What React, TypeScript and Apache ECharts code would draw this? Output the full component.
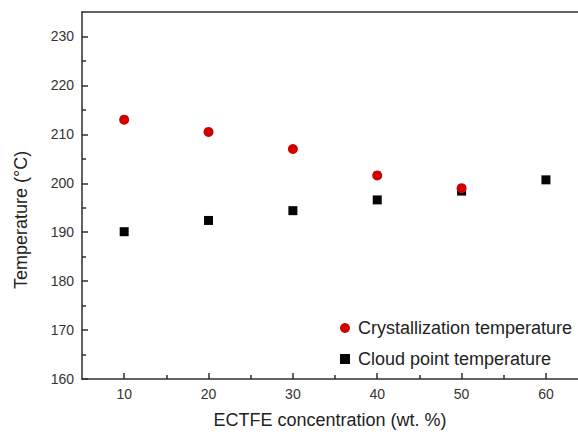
import React, { useEffect, useRef } from "react";
import * as echarts from "echarts";

const concentrations = [10, 20, 30, 40, 50, 60];
const crystallization = [213.0, 210.5, 207.0, 201.6, 199.0];
const cloudPoint = [190.1, 192.4, 194.4, 196.6, 198.4, 200.7];
const xMajorTicks = [10, 20, 30, 40, 50, 60];
const xMinorTicks = [15, 25, 35, 45, 55];
const yMajorTicks = [160, 170, 180, 190, 200, 210, 220, 230];
const yMinorTicks = [165, 175, 185, 195, 205, 215, 225];

const FONT = "Arial, 'Liberation Sans', sans-serif";
const AXIS_COLOR = "#2e2e2e";

export default function App() {
  const ref = useRef<HTMLDivElement>(null);
  useEffect(() => {
    if (!ref.current) return;
    const chart = echarts.init(ref.current, undefined, { renderer: "svg" });
    const baseX = {
      type: "value",
      min: 5,
      max: 63.8,
      splitLine: { show: false },
    };
    const baseY = {
      type: "value",
      min: 160,
      max: 235,
      position: "left",
      offset: 0,
      splitLine: { show: false },
    };
    chart.setOption({
      animation: false,
      backgroundColor: "#fff",
      grid: {
        left: 82,
        top: 12,
        bottom: 51,
        right: 0,
        containLabel: false,
        show: false,
      },
      legend: {
        orient: "vertical",
        left: 335,
        top: 314,
        itemGap: 13,
        itemWidth: 10,
        itemHeight: 10,
        textStyle: { fontFamily: FONT, fontSize: 18, color: "#222", padding: [0, 0, 0, 3] },
        data: [
          { name: "Crystallization temperature", icon: "circle" },
          { name: "Cloud point temperature", icon: "rect" },
        ],
      },
      xAxis: [
        {
          ...baseX,
          position: "bottom",
          offset: 0,
          name: "ECTFE concentration (wt. %)",
          nameLocation: "middle",
          nameGap: 32,
          nameTextStyle: { fontFamily: FONT, fontSize: 18, color: "#222" },
          axisLine: { show: true, lineStyle: { color: AXIS_COLOR, width: 1.5 } },
          axisTick: {
            show: true,
            inside: true,
            length: 6,
            customValues: xMajorTicks,
            lineStyle: { color: AXIS_COLOR, width: 1.5 },
          },
          axisLabel: {
            customValues: xMajorTicks,
            margin: 8,
            fontFamily: FONT,
            fontSize: 14,
            color: "#333",
          },
        },
        {
          ...baseX,
          position: "bottom",
          offset: 0,
          axisLine: { show: false },
          axisTick: {
            show: true,
            inside: true,
            length: 4,
            customValues: xMinorTicks,
            lineStyle: { color: AXIS_COLOR, width: 1.5 },
          },
          axisLabel: { show: false },
        },
        {
          ...baseX,
          position: "top",
          offset: 0,
          axisLine: { show: true, lineStyle: { color: AXIS_COLOR, width: 1.5 } },
          axisTick: { show: false },
          axisLabel: { show: false },
        },
      ],
      yAxis: [
        {
          ...baseY,
          axisLine: { show: true, lineStyle: { color: AXIS_COLOR, width: 1.5 } },
          axisTick: {
            show: true,
            inside: true,
            length: 6,
            customValues: yMajorTicks,
            lineStyle: { color: AXIS_COLOR, width: 1.5 },
          },
          axisLabel: {
            customValues: yMajorTicks,
            margin: 8,
            fontFamily: FONT,
            fontSize: 14,
            color: "#333",
          },
        },
        {
          ...baseY,
          axisLine: { show: false },
          axisTick: {
            show: true,
            inside: true,
            length: 4,
            customValues: yMinorTicks,
            lineStyle: { color: AXIS_COLOR, width: 1.5 },
          },
          axisLabel: { show: false },
        },
      ],
      graphic: [
        {
          type: "text",
          x: 21,
          y: 220,
          rotation: Math.PI / 2,
          style: {
            text: "Temperature (°C)",
            fontFamily: FONT,
            fontSize: 18,
            fill: "#222",
            align: "center",
            verticalAlign: "middle",
          },
        },
      ],
      series: [
        {
          name: "Crystallization temperature",
          type: "scatter",
          xAxisIndex: 0,
          yAxisIndex: 0,
          symbol: "circle",
          symbolSize: 10,
          itemStyle: { color: "#d00000", opacity: 1 },
          data: crystallization.map((v, i) => [concentrations[i], v]),
          z: 3,
        },
        {
          name: "Cloud point temperature",
          type: "scatter",
          xAxisIndex: 0,
          yAxisIndex: 0,
          symbol: "rect",
          symbolSize: 9,
          itemStyle: { color: "#050505", opacity: 1 },
          data: cloudPoint.map((v, i) => [concentrations[i], v]),
          z: 2,
        },
      ],
    });
    return () => chart.dispose();
  }, []);
  return <div ref={ref} style={{ width: 578, height: 434, position: "absolute", left: 0, top: 0 }} />;
}
